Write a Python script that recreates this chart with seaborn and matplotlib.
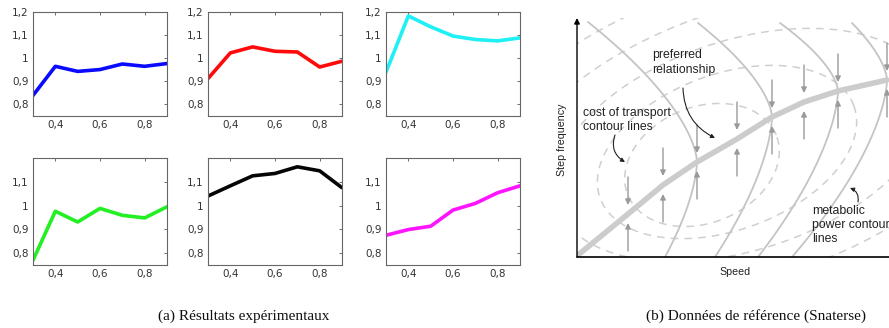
import numpy as np
import matplotlib.pyplot as plt
import seaborn as sns
from matplotlib.ticker import FuncFormatter

sns.set_style("white")

# --- (a) experimental results: 6 small panels ---
speed = [0.3, 0.4, 0.5, 0.6, 0.7, 0.8, 0.9]
blue_vals = [0.839, 0.965, 0.943, 0.951, 0.975, 0.965, 0.977]
red_vals = [0.912, 1.023, 1.049, 1.030, 1.027, 0.962, 0.987]
cyan_vals = [0.940, 1.183, 1.136, 1.096, 1.081, 1.075, 1.088]
green_vals = [0.770, 0.976, 0.931, 0.988, 0.959, 0.948, 0.995]
black_vals = [1.040, 1.083, 1.125, 1.135, 1.163, 1.146, 1.075]
magenta_vals = [0.875, 0.899, 0.913, 0.981, 1.009, 1.054, 1.083]
panel_vals = [blue_vals, red_vals, cyan_vals, green_vals, black_vals, magenta_vals]
panel_colors = ["#0a0aff", "#ff0a0a", "#1ff0f5", "#22f022", "#050505", "#ff14ff"]
yticks_top = [0.8, 0.9, 1.0, 1.1, 1.2]
yticks_bottom = [0.8, 0.9, 1.0, 1.1]
xticks = [0.4, 0.6, 0.8]

# --- (b) reference diagram (arbitrary units: speed / step frequency) ---
pref_speed = [1, 51, 86, 120, 160, 195, 227, 261, 310]
pref_freq = [2, 43, 72, 95, 118, 140, 155, 166, 177]
# metabolic power contours: vertex on preferred line, top end, bottom end
metab_vertex = [3, 5, 7, 8]
metab_top_x = [11, 121, 203, 275]
metab_top_y = [235, 234, 234, 234]
metab_bot_x = [88, 138, 181, 215]
# cost of transport contours (ellipses)
cot_cx = [125, 150, 165, 175, 185]
cot_cy = [92, 105, 112, 115, 118]
cot_a = [80, 135, 195, 260, 330]
cot_b = [58, 78, 105, 135, 165]
cot_angle = [22, 20, 18, 18, 18]

fig = plt.figure(figsize=(8.89, 3.28), dpi=100)
W, H = 889, 328


def px_axes(x0, y0, x1, y1):
    return fig.add_axes([x0 / W, 1 - y1 / H, (x1 - x0) / W, (y1 - y0) / H])


fmt = FuncFormatter(lambda v, p: f"{v:g}".replace(".", ","))
cols = [(33, 167), (208, 342), (386, 520)]
rows = [(12, 116), (158, 265)]
for i, vals in enumerate(panel_vals):
    r, c = divmod(i, 3)
    ax = px_axes(cols[c][0], rows[r][0], cols[c][1], rows[r][1])
    sns.lineplot(x=speed, y=vals, color=panel_colors[i], lw=2.6, ax=ax)
    ax.set_xlim(0.3, 0.9)
    ax.set_ylim(0.75, 1.2)
    ax.set_xticks(xticks)
    ax.set_yticks(yticks_top if r == 0 else yticks_bottom)
    ax.xaxis.set_major_formatter(fmt)
    ax.yaxis.set_major_formatter(fmt)
    ax.tick_params(direction="in", length=2.5, width=0.6, top=True, right=True,
                   labelsize=7.5, colors="#555555", labelcolor="#333333", pad=3)
    for s in ax.spines.values():
        s.set_color("#666666")
        s.set_linewidth(0.8)

# diagram
dx0, dy0, dx1, dy1 = 577, 18, 889, 257
ax = px_axes(dx0, dy0, dx1, dy1)
ax.set_xlim(0, dx1 - dx0)
ax.set_ylim(0, dy1 - dy0)
ax.axis("off")

t = np.linspace(0, 2 * np.pi, 400)
for cx, cy, a, b, ang in zip(cot_cx, cot_cy, cot_a, cot_b, cot_angle):
    th = np.radians(ang)
    ex = cx + a * np.cos(t) * np.cos(th) - b * np.sin(t) * np.sin(th)
    ey = cy + a * np.cos(t) * np.sin(th) + b * np.sin(t) * np.cos(th)
    ax.plot(ex, ey, color="#cfcfcf", lw=1.1, ls=(0, (5, 4)))

for k, vi in enumerate(metab_vertex):
    xv, yv = pref_speed[vi], pref_freq[vi]
    yu = np.linspace(yv, metab_top_y[k], 60)
    cu = (xv - metab_top_x[k]) / (metab_top_y[k] - yv) ** 1.6
    yl = np.linspace(0, yv, 60)
    cl = (xv - metab_bot_x[k]) / yv ** 1.6
    ys = np.concatenate([yl, yu])
    xs = np.concatenate([xv - cl * (yv - yl) ** 1.6, xv - cu * (yu - yv) ** 1.6])
    ax.plot(xs, ys, color="#c4c4c4", lw=1.3)

sns.lineplot(x=pref_speed, y=pref_freq, color="#cccccc", lw=4, ax=ax, sort=False)

gap, L = 9, 28
for x, y in zip(pref_speed[1:], pref_freq[1:]):
    for sgn in (1, -1):
        ax.annotate("", xy=(x, y + sgn * gap), xytext=(x, y + sgn * (gap + L)),
                    arrowprops=dict(arrowstyle="-|>", color="#9a9a9a", lw=1,
                                    mutation_scale=8, shrinkA=0, shrinkB=0))

# axes arrows
ax.annotate("", xy=(0, dy1 - dy0), xytext=(0, 0),
            arrowprops=dict(arrowstyle="-|>", color="black", lw=1, mutation_scale=8,
                            shrinkA=0, shrinkB=0), annotation_clip=False)
ax.plot([0, 330], [0, 0], color="black", lw=1.2, clip_on=False)

tf = dict(fontsize=8.8, family="Liberation Sans", color="#222222")
ax.text(75, 208, "preferred\nrelationship", va="top", ha="left", linespacing=1.3, **tf)
ax.text(6, 150, "cost of transport\ncontour lines", va="top", ha="left", linespacing=1.2, **tf)
ax.text(235, 52, "metabolic\npower contour\nlines", va="top", ha="left", linespacing=1.2, **tf)
ap = dict(arrowstyle="-|>", color="#222222", lw=0.8, mutation_scale=6, shrinkA=0, shrinkB=0)
ax.annotate("", xy=(138, 119), xytext=(106, 169),
            arrowprops=dict(connectionstyle="arc3,rad=0.3", **ap))
ax.annotate("", xy=(48, 95), xytext=(38, 122),
            arrowprops=dict(connectionstyle="arc3,rad=0.4", **ap))
ax.annotate("", xy=(273, 69), xytext=(281, 55),
            arrowprops=dict(connectionstyle="arc3,rad=0.4", **ap))
ax.text(-15, 117, "Step frequency", rotation=90, ha="center", va="center",
        fontsize=7.7, family="Liberation Sans", color="#222222", clip_on=False)
ax.text(158, -15, "Speed", ha="center", va="center",
        fontsize=7.7, family="Liberation Sans", color="#222222", clip_on=False)

cap = dict(fontsize=11, family="Liberation Serif", ha="center", va="center", color="#111111")
fig.text(244 / W, 1 - 316 / H, "(a) Résultats expérimentaux", **cap)
fig.text(756 / W, 1 - 316 / H, "(b) Données de référence (Snaterse)", **cap)

fig.savefig("out.png", dpi=100)
